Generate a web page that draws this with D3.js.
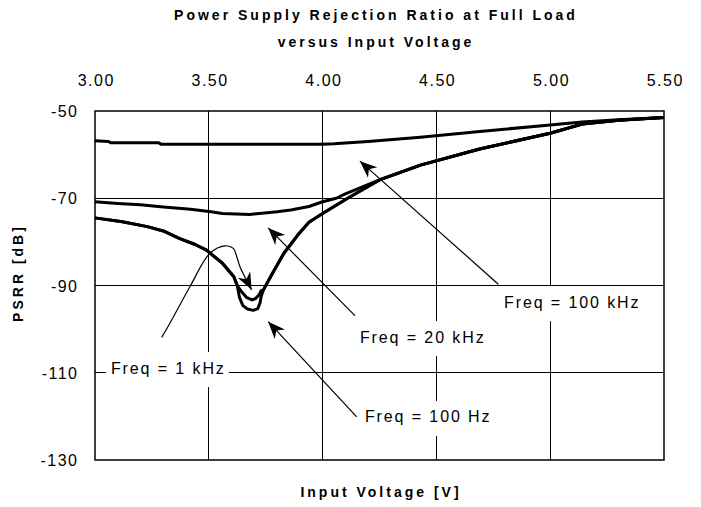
<!DOCTYPE html>
<html>
<head>
<meta charset="utf-8">
<script src="https://cdn.jsdelivr.net/npm/d3@7"></script>
<style>
  body { margin: 0; background: #fff; }
  text { font-family: 'Liberation Sans', Arial, Helvetica, sans-serif; fill: #000; }
</style>
</head>
<body>
<svg id="chart" width="701" height="507"></svg>
<script>
// axis ticks
const xTicks = [3.0, 3.5, 4.0, 4.5, 5.0, 5.5];
const yTicks = [-50, -70, -90, -110, -130];

// [input voltage V, PSRR dB]
const freq100kHz = [
  [3.00, -56.8], [3.06, -57.0], [3.07, -57.3], [3.28, -57.3], [3.29, -57.6], [3.60, -57.6],
  [4.00, -57.6], [4.05, -57.5], [4.20, -57.0], [4.43, -56.0], [4.69, -54.7], [5.00, -53.2],
  [5.14, -52.5], [5.30, -52.0], [5.50, -51.5]
];
const freq20kHz = [
  [3.00, -70.8], [3.10, -71.2], [3.20, -71.5], [3.30, -72.0], [3.42, -72.5], [3.51, -73.1],
  [3.56, -73.5], [3.68, -73.7], [3.80, -73.1], [3.86, -72.7], [3.94, -71.9], [4.00, -70.8],
  [4.06, -70.0], [4.10, -69.0], [4.25, -65.8], [4.43, -62.4], [4.69, -58.7], [5.00, -55.1],
  [5.14, -53.0], [5.30, -52.1], [5.50, -51.5]
];
const freq1kHz = [
  [3.00, -74.5], [3.12, -75.4], [3.23, -76.5], [3.30, -77.5], [3.37, -79.2], [3.44, -80.6],
  [3.49, -81.9], [3.56, -84.9], [3.61, -88.0], [3.625, -90.0], [3.645, -91.5], [3.665, -92.7],
  [3.69, -93.3], [3.705, -93.0], [3.72, -92.2], [3.73, -91.2], [3.74, -91.0], [3.78, -87.2],
  [3.83, -82.6], [3.89, -78.5], [3.94, -75.5], [4.00, -73.5], [4.11, -70.0], [4.25, -65.8],
  [4.43, -62.4], [4.69, -58.7], [5.00, -55.1], [5.14, -53.0], [5.30, -52.1], [5.50, -51.5]
];
const freq100Hz = [
  [3.00, -74.5], [3.12, -75.4], [3.23, -76.5], [3.30, -77.5], [3.37, -79.2], [3.44, -80.6],
  [3.49, -81.9], [3.56, -84.9], [3.61, -88.0], [3.625, -90.0], [3.635, -92.8], [3.65, -94.6],
  [3.67, -95.4], [3.695, -95.7], [3.715, -95.3], [3.725, -94.0], [3.73, -92.5], [3.74, -91.0],
  [3.78, -87.2], [3.83, -82.6], [3.89, -78.5], [3.94, -75.5], [4.00, -73.5], [4.11, -70.0],
  [4.25, -65.8], [4.43, -62.4], [4.69, -58.7], [5.00, -55.1], [5.14, -53.0], [5.30, -52.1],
  [5.50, -51.5]
];

// callout labels (left edge, vertical centre) in data units
const labels = [
  { text: 'Freq = 100 kHz', x: 4.797, y: -93.8 },
  { text: 'Freq = 20 kHz', x: 4.164, y: -101.8 },
  { text: 'Freq = 1 kHz', x: 3.070, y: -108.9 },
  { text: 'Freq = 100 Hz', x: 4.186, y: -120.1 }
];
// straight arrows: from label to curve
const arrows = [
  { from: [4.772, -89.7], to: [4.164, -61.5] },
  { from: [4.142, -96.9], to: [3.761, -76.8] },
  { from: [4.150, -120.1], to: [3.761, -98.3] }
];
// curved leader for the 1 kHz label
const leader1kHz = [
  [3.293, -101.9], [3.337, -97.9], [3.417, -90.3], [3.505, -82.6], [3.571, -80.9],
  [3.608, -81.5], [3.623, -83.4], [3.637, -85.7], [3.688, -91.0]
];

const margin = { top: 111, right: 37, bottom: 47, left: 95 };
const width = 701 - margin.left - margin.right;
const height = 507 - margin.top - margin.bottom;

const svg = d3.select('#chart');

svg.append('rect')
  .attr('width', 701)
  .attr('height', 507)
  .attr('fill', '#fff');

svg.append('text')
  .attr('x', 376)
  .attr('y', 20)
  .attr('text-anchor', 'middle')
  .style('font-size', '14px')
  .style('font-weight', 'bold')
  .style('letter-spacing', '3px')
  .text('Power Supply Rejection Ratio at Full Load');

svg.append('text')
  .attr('x', 376)
  .attr('y', 47)
  .attr('text-anchor', 'middle')
  .style('font-size', '14px')
  .style('font-weight', 'bold')
  .style('letter-spacing', '3px')
  .text('versus Input Voltage');

const main = svg.append('g')
  .attr('transform', `translate(${margin.left},${margin.top})`);

const x = d3.scaleLinear()
  .domain([3.0, 5.5])
  .range([0, width]);

const y = d3.scaleLinear()
  .domain([-130, -50])
  .range([height, 0]);

// gridlines
main.append('g')
  .selectAll('line')
  .data(xTicks.slice(1, -1))
  .join('line')
  .attr('x1', d => x(d)).attr('x2', d => x(d))
  .attr('y1', 0).attr('y2', height)
  .attr('stroke', '#000')
  .attr('stroke-width', 1)
  .attr('shape-rendering', 'crispEdges');

main.append('g')
  .selectAll('line')
  .data(yTicks.slice(1, -1))
  .join('line')
  .attr('x1', 0).attr('x2', width)
  .attr('y1', d => y(d)).attr('y2', d => y(d))
  .attr('stroke', '#000')
  .attr('stroke-width', 1)
  .attr('shape-rendering', 'crispEdges');

main.append('rect')
  .attr('width', width)
  .attr('height', height)
  .attr('fill', 'none')
  .attr('stroke', '#000')
  .attr('stroke-width', 1.5);

// axes (labels only)
const xAxis = main.append('g')
  .call(d3.axisTop(x)
    .tickValues(xTicks)
    .tickFormat(d3.format('.2f'))
    .tickSize(0)
    .tickPadding(25));

const yAxis = main.append('g')
  .call(d3.axisLeft(y)
    .tickValues(yTicks)
    .tickFormat(d => d)
    .tickSize(0)
    .tickPadding(16.5));

[xAxis, yAxis].forEach(a => {
  a.select('.domain').remove();
  a.selectAll('text')
    .attr('fill', '#000')
    .style('font-family', "'Liberation Sans', Arial, sans-serif")
    .style('font-size', '16px')
    .style('letter-spacing', '1.5px');
});
xAxis.selectAll('text').attr('dx', '0.75px');
yAxis.selectAll('text').attr('dy', '0.35em');

svg.append('text')
  .attr('x', 381)
  .attr('y', 497)
  .attr('text-anchor', 'middle')
  .style('font-size', '14px')
  .style('font-weight', 'bold')
  .style('letter-spacing', '3px')
  .text('Input Voltage [V]');

svg.append('text')
  .attr('transform', 'translate(23,273) rotate(-90)')
  .attr('text-anchor', 'middle')
  .style('font-size', '14px')
  .style('font-weight', 'bold')
  .style('letter-spacing', '3px')
  .text('PSRR [dB]');

// label boxes knock out the grid behind them
const labelG = main.append('g');
const labelText = labelG.selectAll('text')
  .data(labels)
  .join('text')
  .attr('x', d => x(d.x))
  .attr('y', d => y(d.y))
  .attr('dy', '0.35em')
  .style('font-size', '16px')
  .style('letter-spacing', '1.9px')
  .text(d => d.text);

labelText.each(function () {
  const b = this.getBBox();
  labelG.insert('rect', 'text')
    .attr('x', b.x - 5)
    .attr('y', b.y + b.height / 2 - 16)
    .attr('width', b.width + 8)
    .attr('height', 35)
    .attr('fill', '#fff');
});

// data curves
const line = d3.line()
  .x(d => x(d[0]))
  .y(d => y(d[1]));

main.append('g')
  .selectAll('path')
  .data([freq100kHz, freq20kHz, freq1kHz, freq100Hz])
  .join('path')
  .attr('fill', 'none')
  .attr('stroke', '#000')
  .attr('stroke-width', 3)
  .attr('stroke-linejoin', 'round')
  .attr('d', line);

// arrows
const headLen = 17, headW = 7, notch = 5;
const arrowHead = (tip, from) => {
  const dx = tip[0] - from[0], dy = tip[1] - from[1];
  const len = Math.hypot(dx, dy);
  const ux = dx / len, uy = dy / len;
  const nx = -uy, ny = ux;
  const bx = tip[0] - ux * headLen, by = tip[1] - uy * headLen;
  return `M${tip[0]},${tip[1]}`
    + `L${bx + nx * headW},${by + ny * headW}`
    + `L${tip[0] - ux * (headLen - notch)},${tip[1] - uy * (headLen - notch)}`
    + `L${bx - nx * headW},${by - ny * headW}Z`;
};

const arrowG = main.append('g');
arrows.forEach(a => {
  const p0 = [x(a.from[0]), y(a.from[1])];
  const p1 = [x(a.to[0]), y(a.to[1])];
  arrowG.append('line')
    .attr('x1', p0[0]).attr('y1', p0[1])
    .attr('x2', p1[0]).attr('y2', p1[1])
    .attr('stroke', '#000')
    .attr('stroke-width', 1.2);
  arrowG.append('path')
    .attr('d', arrowHead(p1, p0))
    .attr('fill', '#000');
});

const leaderPts = leader1kHz.map(d => [x(d[0]), y(d[1])]);
arrowG.append('path')
  .attr('d', d3.line().curve(d3.curveCatmullRom)(leaderPts))
  .attr('fill', 'none')
  .attr('stroke', '#000')
  .attr('stroke-width', 1.2);
arrowG.append('path')
  .attr('d', arrowHead(leaderPts[leaderPts.length - 1], leaderPts[leaderPts.length - 2]))
  .attr('fill', '#000');
</script>
</body>
</html>
